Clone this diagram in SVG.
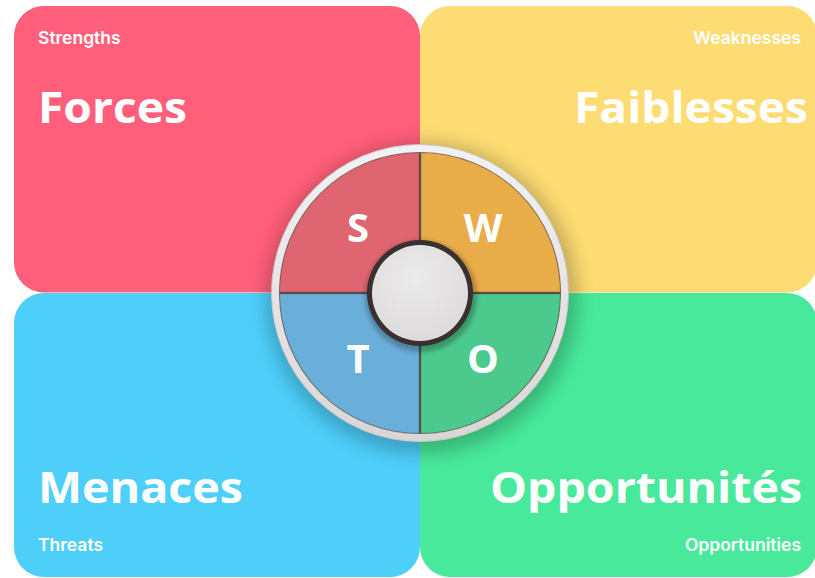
<svg xmlns="http://www.w3.org/2000/svg" width="815" height="578" viewBox="0 0 815 578">
<defs>
<style>
.title{font-family:"Open Sans","Liberation Sans",sans-serif;font-weight:700;font-size:43px;fill:#ffffff}
.sub{font-family:Inter,"Liberation Sans",sans-serif;font-weight:600;font-size:17.5px;fill:#ffffff}
.letter{font-family:"Open Sans","Liberation Sans",sans-serif;font-weight:700;font-size:40px;fill:#ffffff;text-anchor:middle}
.seg{stroke:#5a4a4a;stroke-width:1.2;stroke-opacity:0.6}
</style>
<filter id="blur" x="-30%" y="-30%" width="160%" height="160%"><feGaussianBlur stdDeviation="9"/></filter>
<filter id="blur2" x="-30%" y="-30%" width="160%" height="160%"><feGaussianBlur stdDeviation="2"/></filter>
<radialGradient id="hubG" cx="0.45" cy="0.35" r="0.7">
<stop offset="0" stop-color="#ecebeb"/><stop offset="1" stop-color="#dcd9d9"/>
</radialGradient>
<linearGradient id="ringG" x1="0" y1="0" x2="0" y2="1">
<stop offset="0" stop-color="#f3f2f2"/><stop offset="1" stop-color="#d9d6d6"/>
</linearGradient>
</defs>
<rect width="815" height="578" fill="#ffffff"/>
<g id="forces">
<rect x="14" y="6" width="406" height="286.5" rx="30" fill="#FF5F7A"/>
<text class="sub" x="38" y="44">Strengths</text>
<text class="title" x="38" y="123" textLength="149" lengthAdjust="spacingAndGlyphs">Forces</text>
</g>
<g id="faiblesses">
<rect x="420" y="6" width="397" height="286.5" rx="30" fill="#FDDC73"/>
<text class="sub" x="801" y="44" text-anchor="end">Weaknesses</text>
<text class="title" x="574" y="123" textLength="234" lengthAdjust="spacingAndGlyphs">Faiblesses</text>
</g>
<g id="menaces">
<rect x="14" y="293" width="406" height="284" rx="30" fill="#4DCFFA"/>
<text class="title" x="38" y="503" textLength="205" lengthAdjust="spacingAndGlyphs">Menaces</text>
<text class="sub" x="38" y="551">Threats</text>
</g>
<g id="opportunites">
<rect x="420" y="293" width="397" height="284" rx="30" fill="#48E99B"/>
<text class="title" x="490" y="503" textLength="312" lengthAdjust="spacingAndGlyphs">Opportunités</text>
<text class="sub" x="801" y="551" text-anchor="end">Opportunities</text>
</g>
<g id="swot-wheel">
<circle cx="422" cy="298" r="156" fill="#000" opacity="0.22" filter="url(#blur)"/>
<circle cx="420" cy="293" r="148.5" fill="url(#ringG)" stroke="#c9c5c5" stroke-width="1"/>
<circle cx="420" cy="293" r="140.5" fill="#3e3434"/>
<g id="s">
<path class="seg" d="M419.3 292.3 L279.5 292.3 A139.8 139.8 0 0 1 419.3 152.5 Z" fill="#DF6670"/>
<text class="letter" x="358" y="242">S</text>
</g>
<g id="w">
<path class="seg" d="M420.7 292.3 L420.7 152.5 A139.8 139.8 0 0 1 560.5 292.3 Z" fill="#E8AD48"/>
<text class="letter" x="483" y="242">W</text>
</g>
<g id="t">
<path class="seg" d="M419.3 293.7 L419.3 433.5 A139.8 139.8 0 0 1 279.5 293.7 Z" fill="#6AAEDA"/>
<text class="letter" x="358" y="373">T</text>
</g>
<g id="o">
<path class="seg" d="M420.7 293.7 L560.5 293.7 A139.8 139.8 0 0 1 420.7 433.5 Z" fill="#4CC98D"/>
<text class="letter" x="483" y="373">O</text>
</g>
<circle cx="421" cy="296" r="56" fill="#000" opacity="0.25" filter="url(#blur2)"/>
<circle cx="420" cy="293" r="53" fill="#3b3030"/>
<circle cx="420" cy="293" r="48" fill="url(#hubG)"/>
</g>
</svg>
